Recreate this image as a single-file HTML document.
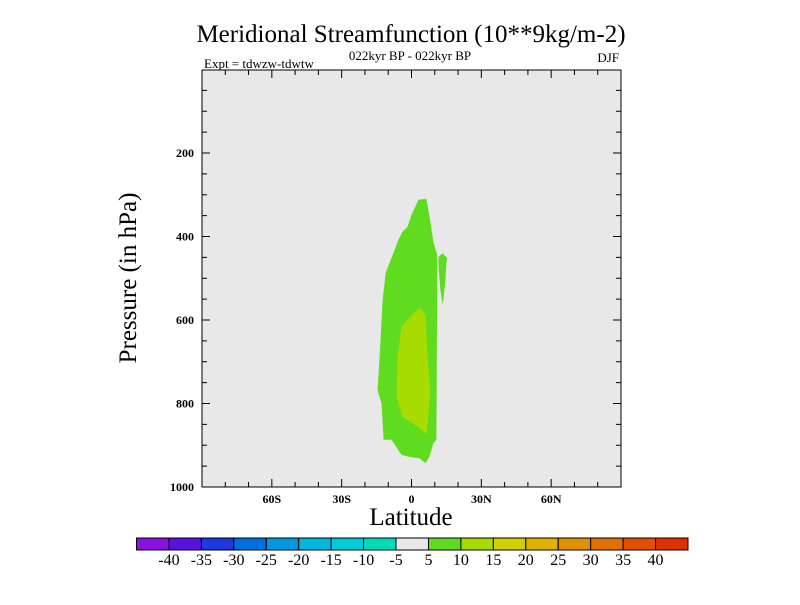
<!DOCTYPE html>
<html><head><meta charset="utf-8"><style>
body{margin:0;background:#fff;width:800px;height:600px;overflow:hidden}
svg text{font-family:"Liberation Serif",serif;fill:#000}
</style></head><body>
<svg id="chart" width="800" height="600" xmlns="http://www.w3.org/2000/svg">
<text x="411" y="42" font-size="25" text-anchor="middle">Meridional Streamfunction (10**9kg/m-2)</text>
<text x="410" y="60" font-size="13" text-anchor="middle">022kyr BP - 022kyr BP</text>
<text x="204" y="68" font-size="13">Expt = tdwzw-tdwtw</text>
<text x="619" y="62" font-size="13" text-anchor="end">DJF</text>
<rect x="202" y="70" width="419" height="417" fill="#e8e8e8"/>
<g id="contours"></g>
<g id="axes"></g>
<rect x="202" y="70" width="419" height="417" fill="none" stroke="#000" stroke-width="1"/>
<text transform="translate(136,278) rotate(-90)" font-size="25" text-anchor="middle">Pressure (in hPa)</text>
<text x="411" y="525" font-size="25" text-anchor="middle">Latitude</text>
<g id="colorbar"></g>
</svg>
<script>
const outerLat=[3.0,6.4,8.1,9.4,11.1,10.7,9.4,7.7,6.0,3.4,-0.9,-4.3,-8.6,-12.0,-12.9,-14.6,-13.7,-12.4,-11.1,-8.6,-5.6,-3.9,-1.7,0];
const outerP=[312,310,365,413,444,887,895,928,943,931,928,923,887,887,799,768,689,552,487,451,408,389,377,348];
const blobLat=[11.6,13.3,15.4,15.0,14.6,13.7,13.3,12.4,11.6];
const blobP=[449,440,452,463,499,552,562,528,473];
const innerLat=[3.4,6.0,6.9,8.1,6.9,6.4,4.3,0.4,-3.9,-6.4,-6.0,-4.3,-0.9];
const innerP=[571,588,689,768,847,875,863,847,832,784,689,617,595];
const xTickLabels=["60S","30S","0","30N","60N"];
const xTickVals=[-60,-30,0,30,60];
const yTickVals=[200,400,600,800,1000];
const levelLabels=["-40","-35","-30","-25","-20","-15","-10","-5","5","10","15","20","25","30","35","40"];
const levelColors=["#8a10e0","#5a10e0","#2038e0","#0070e0","#0098e0","#00b8e0","#00cbd8","#00dcb8","#e8e8e8","#60dc20","#a8dc00","#d0d000","#e0b000","#e09000","#e07000","#e05000","#e03000"];
const ns="http://www.w3.org/2000/svg";
const X=lat=>202+(lat+90)/180*419;
const Y=p=>69.5+p*0.4175;
function el(t,a,parent){const e=document.createElementNS(ns,t);for(const k in a)e.setAttribute(k,a[k]);parent.appendChild(e);return e;}
const cg=document.getElementById('contours');
function poly(lats,ps,fill,name){const pts=lats.map((l,i)=>X(l).toFixed(1)+','+Y(ps[i]).toFixed(1)).join(' ');const e=el('polygon',{points:pts,fill:fill},cg);

}
poly(outerLat,outerP,"#60dc20","contour-5-10");
poly(blobLat,blobP,"#60dc20","contour-5-10-secondary");
poly(innerLat,innerP,"#a8dc00","contour-10-15");
const ag=document.getElementById('axes');
for(let lat=-80;lat<=80;lat+=10){const x=X(lat);const L=(lat%30===0)?8:5;
const t1=el('line',{x1:x,x2:x,y1:487,y2:487-L,stroke:'#000'},ag);


const t2=el('line',{x1:x,x2:x,y1:70,y2:70+L,stroke:'#000'},ag);

}
xTickVals.forEach((v,i)=>{const t=el('text',{x:X(v),y:503,'font-size':12,'font-weight':'bold','text-anchor':'middle'},ag);t.textContent=xTickLabels[i];

});
for(let p=50;p<=1000;p+=50){const y=Y(p);const L=(p%200===0)?8:5;
const t1=el('line',{x1:202,x2:202+L,y1:y,y2:y,stroke:'#000'},ag);


const t2=el('line',{x1:621,x2:621-L,y1:y,y2:y,stroke:'#000'},ag);

}
yTickVals.forEach(v=>{const t=el('text',{x:194,y:Y(v)+4,'font-size':12,'font-weight':'bold','text-anchor':'end'},ag);t.textContent=v;

});
const bg=document.getElementById('colorbar');
const bw=(688-136.5)/levelColors.length;
levelColors.forEach((c,i)=>{const r=el('rect',{x:136.5+i*bw,y:538,width:bw,height:12,fill:c,stroke:'#000','stroke-width':1},bg);

});
levelLabels.forEach((s,i)=>{const t=el('text',{x:136.5+(i+1)*bw,y:565,'font-size':16,'text-anchor':'middle'},bg);t.textContent=s;

});
</script>
</body></html>
